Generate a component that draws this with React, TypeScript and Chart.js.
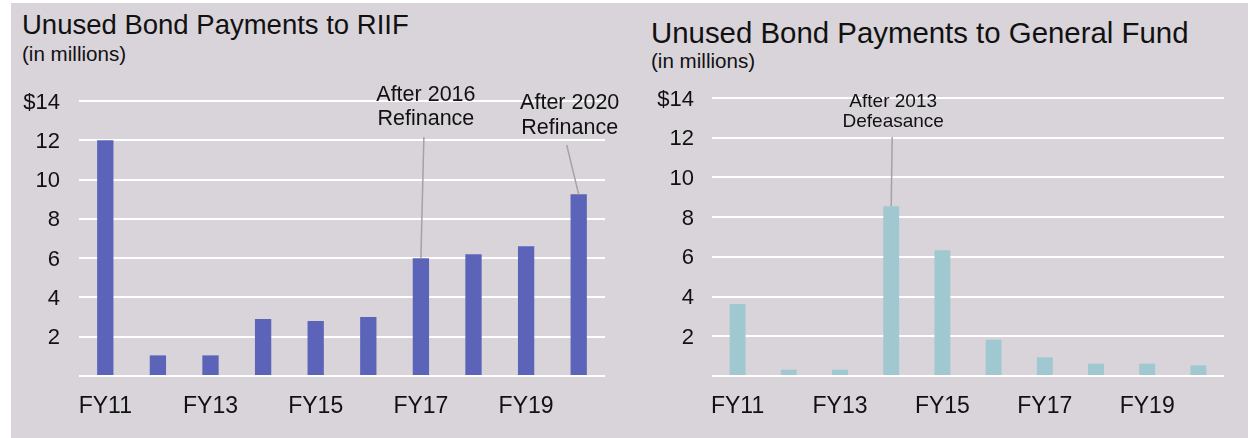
import React, { useEffect, useRef } from 'react';
import { Chart, registerables } from 'chart.js';

Chart.register(...registerables);

// ---- data ----
const categories = ['FY11', 'FY12', 'FY13', 'FY14', 'FY15', 'FY16', 'FY17', 'FY18', 'FY19', 'FY20'];
const riifValues = [12.0, 1.05, 1.05, 2.9, 2.8, 3.0, 6.0, 6.2, 6.6, 9.25];
const generalFundValues = [3.62, 0.32, 0.32, 8.55, 6.33, 1.83, 0.94, 0.62, 0.62, 0.54];
const yMin = 0;
const yMax = 14;
const yStep = 2;
const riifTitle = 'Unused Bond Payments to RIIF';
const gfTitle = 'Unused Bond Payments to General Fund';
const unitNote = '(in millions)';
const riifNotes = [
  { index: 6, lines: ['After 2016', 'Refinance'] },
  { index: 9, lines: ['After 2020', 'Refinance'] },
];
const gfNotes = [{ index: 3, lines: ['After 2013', 'Defeasance'] }];

// ---- styles ----
const FONT = '"Liberation Sans", Arial, Helvetica, sans-serif';
const BG = '#d9d4da';
const TEXT = '#111111';
const LEADER = '#a3a3a3';

const riifNoteStyle = [
  { textDx: 5, textTop: -6, lineGap: 24, size: 21.5, lineDx: 3, lineTop: 36 },
  { textDx: -9, textTop: 2, lineGap: 25, size: 21.5, lineDx: -12, lineTop: 44 },
];
const gfNoteStyle = [{ textDx: 2, textTop: 4, lineGap: 20, size: 19, lineDx: 1, lineTop: 39 }];

type Panel = {
  values: number[];
  color: string;
  notes: { index: number; lines: string[] }[];
  noteStyle: any[];
  canvasW: number;
  canvasH: number;
  padTop: number;
  padRight: number;
  yWidth: number;
  yPad: number;
};

function makeNotePlugin(notes: Panel['notes'], styles: any[]) {
  return {
    id: 'notes',
    afterDatasetsDraw(chart: any) {
      const { ctx, chartArea } = chart;
      const meta = chart.getDatasetMeta(0);
      notes.forEach((n, k) => {
        const s = styles[k];
        const bar = meta.data[n.index];
        if (!bar) return;
        const bx = bar.x;
        const by = bar.y;
        ctx.save();
        ctx.strokeStyle = LEADER;
        ctx.lineWidth = 1.5;
        ctx.beginPath();
        ctx.moveTo(bx + s.lineDx, chartArea.top + s.lineTop);
        ctx.lineTo(bx, by);
        ctx.stroke();
        ctx.fillStyle = TEXT;
        ctx.font = `${s.size}px ${FONT}`;
        ctx.textAlign = 'center';
        ctx.textBaseline = 'middle';
        n.lines.forEach((t, i) => {
          ctx.fillText(t, bx + s.textDx, chartArea.top + s.textTop + i * s.lineGap);
        });
        ctx.restore();
      });
    },
  };
}

function BarPanel(p: Panel) {
  const ref = useRef<HTMLCanvasElement | null>(null);
  useEffect(() => {
    if (!ref.current) return;
    const chart = new Chart(ref.current, {
      type: 'bar',
      data: {
        labels: categories,
        datasets: [
          {
            data: p.values,
            backgroundColor: p.color,
            borderWidth: 0,
            categoryPercentage: 1,
            barPercentage: 0.31,
          },
        ],
      },
      plugins: [makeNotePlugin(p.notes, p.noteStyle)],
      options: {
        responsive: false,
        maintainAspectRatio: false,
        animation: false,
        layout: { padding: { top: p.padTop, right: p.padRight, left: 0, bottom: 0 } },
        plugins: {
          legend: { display: false },
          tooltip: { enabled: false },
          title: { display: false },
        },
        scales: {
          x: {
            grid: { display: false, drawTicks: false },
            border: { display: false },
            ticks: {
              autoSkip: false,
              maxRotation: 0,
              padding: 17,
              color: TEXT,
              font: { family: FONT, size: 23 },
              callback: (_v: any, i: number) => (i % 2 === 0 ? categories[i] : ''),
            },
            afterFit: (s: any) => {
              s.height = 62;
            },
          },
          y: {
            min: yMin,
            max: yMax,
            grid: { color: '#ffffff', lineWidth: 2, drawTicks: false },
            border: { display: false },
            ticks: {
              stepSize: yStep,
              padding: p.yPad,
              labelOffset: 1.5,
              color: TEXT,
              font: { family: FONT, size: 22 },
              callback: (v: any) => (v === yMin ? '' : v === yMax ? '$' + v : String(v)),
            },
            afterFit: (s: any) => {
              s.width = p.yWidth;
            },
          },
        },
      },
    } as any);
    return () => chart.destroy();
  }, []);
  return <canvas ref={ref} width={p.canvasW} height={p.canvasH} style={{ width: p.canvasW, height: p.canvasH, display: 'block' }} />;
}

export default function App() {
  return (
    <div style={{ position: 'fixed', left: 0, top: 0, width: 1248, height: 438, background: '#ffffff', overflow: 'hidden', fontFamily: FONT }}>
      <div style={{ position: 'absolute', left: 11, top: 3, right: 0, bottom: 0, background: BG }} />
      <div style={{ position: 'absolute', left: 22, top: 10.7, fontSize: 27.5, lineHeight: 1, color: TEXT, whiteSpace: 'nowrap' }}>{riifTitle}</div>
      <div style={{ position: 'absolute', left: 22, top: 43.5, fontSize: 20.6, lineHeight: 1, color: TEXT, whiteSpace: 'nowrap' }}>{unitNote}</div>
      <div style={{ position: 'absolute', left: 651, top: 18, fontSize: 29.4, lineHeight: 1, color: TEXT, whiteSpace: 'nowrap' }}>{gfTitle}</div>
      <div style={{ position: 'absolute', left: 651, top: 51, fontSize: 20.6, lineHeight: 1, color: TEXT, whiteSpace: 'nowrap' }}>{unitNote}</div>
      <div style={{ position: 'absolute', left: 11, top: 3 }}>
        <BarPanel
          values={riifValues}
          color="#5b64b8"
          notes={riifNotes}
          noteStyle={riifNoteStyle}
          canvasW={615}
          canvasH={435}
          padTop={98}
          padRight={21}
          yWidth={68}
          yPad={19}
        />
      </div>
      <div style={{ position: 'absolute', left: 630, top: 3 }}>
        <BarPanel
          values={generalFundValues}
          color="#9fc8d0"
          notes={gfNotes}
          noteStyle={gfNoteStyle}
          canvasW={618}
          canvasH={435}
          padTop={95}
          padRight={24}
          yWidth={82}
          yPad={18}
        />
      </div>
    </div>
  );
}
